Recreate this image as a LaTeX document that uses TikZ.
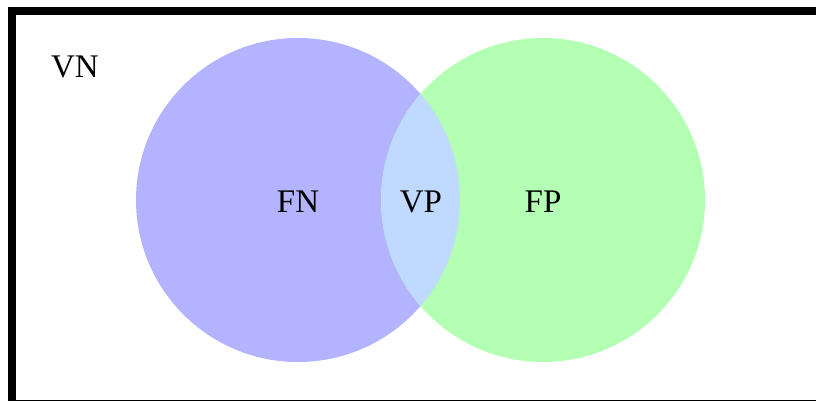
\documentclass[tikz,border=0pt]{standalone}
\usepackage{fontspec}
\setmainfont{Liberation Serif}
\definecolor{fnblue}{RGB}{179,179,255}
\definecolor{fpgreen}{RGB}{179,255,179}
\definecolor{vpblue}{RGB}{191,217,255}
\tikzset{
  lbl/.style={font=\fontsize{33}{36}\selectfont, text=black, inner sep=0pt},
}
\begin{document}
\begin{tikzpicture}[x=1pt,y=-1pt]
\useasboundingbox (0,0) rectangle (816,401);
\clip (0,0) rectangle (816,401);
\fill[white] (0,0) rectangle (816,401);
\draw[line width=8pt] (12,11) rectangle (840,404);
\fill[fnblue] (298,200) circle (162);
\fill[fpgreen] (543,200) circle (162);
\begin{scope}
  \clip (298,200) circle (162);
  \fill[vpblue] (543,200) circle (162);
\end{scope}
\node[lbl] (vn) at (75,67) {VN};
\node[lbl] (fn) at (298,202) {FN};
\node[lbl] (vp) at (421,202) {VP};
\node[lbl] (fp) at (543,202) {FP};
\end{tikzpicture}
\end{document}
